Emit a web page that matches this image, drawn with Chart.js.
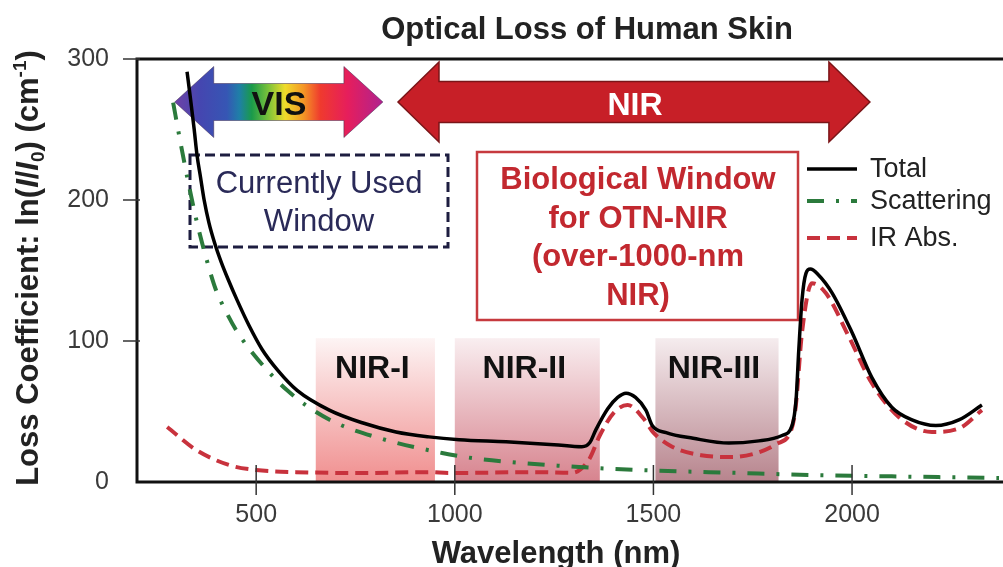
<!DOCTYPE html>
<html><head><meta charset="utf-8">
<script src="https://cdn.jsdelivr.net/npm/chart.js@4.4.1/dist/chart.umd.min.js"></script>
<style>html,body{margin:0;padding:0;background:#fff;}canvas{display:block;}</style>
</head><body>
<canvas id="c" width="1003" height="567"></canvas>
<script>
const FONT = "'Liberation Sans', Arial, Helvetica, sans-serif";

// ---- data ----
const chartTitle = 'Optical Loss of Human Skin';
const xAxisTitle = 'Wavelength (nm)';
const xTickValues = [500, 1000, 1500, 2000];
const yTickValues = [0, 100, 200, 300];

const seriesLabels = ['Total', 'Scattering', 'IR Abs.'];

const totalNm   = [326, 335, 344, 351, 360, 369, 381, 396, 412, 429, 452, 482, 515, 555, 603, 684, 767, 852, 935, 1011, 1129, 1250, 1320, 1340, 1355, 1385, 1410, 1431, 1455, 1481, 1497, 1532, 1600, 1690, 1760, 1824, 1849, 1859, 1866, 1874, 1884, 1895, 1915, 1950, 2000, 2050, 2100, 2151, 2211, 2269, 2327];
const totalLoss = [291, 271, 250, 232, 216, 200, 184, 169, 156, 144, 129, 111, 94, 79, 65, 51, 42, 35.5, 32, 30, 28.5, 26.5, 25, 28, 37, 52, 60, 63, 60, 51, 40, 35, 31, 27.6, 29, 33, 40, 58, 94, 129, 148, 151, 147, 134, 106, 74, 53, 44, 40, 44, 54.6];

const scatNm   = [291, 308, 328, 351, 376, 399, 422, 449, 485, 578, 686, 812, 968, 1043, 1169, 1313, 1464, 1715, 1892, 2100, 2370];
const scatLoss = [269, 243, 214, 184, 157, 136, 122, 108, 93.6, 65, 44, 31, 20.6, 17, 13.5, 10.6, 8.5, 6.4, 5, 4, 2.8];

const irNm   = [276, 349, 432, 500, 600, 767, 935, 986, 1212, 1296, 1338, 1365, 1400, 1435, 1475, 1500, 1547, 1620, 1698, 1760, 1810, 1847, 1858, 1874, 1899, 1934, 1992, 2050, 2118, 2201, 2269, 2327];
const irLoss = [39, 22.7, 12, 8.5, 7, 6.4, 7, 6.4, 7, 6.5, 16, 33, 49, 54.6, 45, 35, 25, 19, 17.7, 20.6, 27, 37, 53, 106, 141, 134, 103, 70, 46, 35.5, 38, 51];

const bandNames = ['NIR-I', 'NIR-II', 'NIR-III'];
const bandStart = [650, 1000, 1505];
const bandEnd   = [950, 1365, 1815];
const bandTop   = 102;

function pts(xs, ys) { return xs.map((x, i) => ({ x: x, y: ys[i] })); }

// ---- styles ----
const bandColors = [
  ['#fdf4f4', '#f08f8f'],
  ['#f9eef0', '#d7838e'],
  ['#f5ecee', '#b7848d']
];

function dblArrow(c, xL, xR, yc, headLen, headHalf, shaftHalf) {
  c.beginPath();
  c.moveTo(xL, yc);
  c.lineTo(xL + headLen, yc - headHalf);
  c.lineTo(xL + headLen, yc - shaftHalf);
  c.lineTo(xR - headLen, yc - shaftHalf);
  c.lineTo(xR - headLen, yc - headHalf);
  c.lineTo(xR, yc);
  c.lineTo(xR - headLen, yc + headHalf);
  c.lineTo(xR - headLen, yc + shaftHalf);
  c.lineTo(xL + headLen, yc + shaftHalf);
  c.lineTo(xL + headLen, yc + headHalf);
  c.closePath();
}

const deco = {
  id: 'deco',
  beforeDraw(chart) {
    const c = chart.ctx;
    c.save(); c.fillStyle = '#fff'; c.fillRect(0, 0, chart.width, chart.height); c.restore();
  },
  beforeDatasetsDraw(chart) {
    const c = chart.ctx, xs = chart.scales.x, ys = chart.scales.y;
    c.save();
    // spectral bands
    bandNames.forEach((name, i) => {
      const x1 = xs.getPixelForValue(bandStart[i]), x2 = xs.getPixelForValue(bandEnd[i]);
      const yT = ys.getPixelForValue(bandTop), yB = ys.getPixelForValue(0);
      const g = c.createLinearGradient(0, yT, 0, yB);
      g.addColorStop(0, bandColors[i][0]);
      g.addColorStop(1, bandColors[i][1]);
      c.fillStyle = g;
      c.fillRect(x1, yT, x2 - x1, yB - yT);
      c.font = 'bold 32px ' + FONT;
      c.fillStyle = '#111';
      c.textAlign = 'center';
      c.textBaseline = 'alphabetic';
      c.fillText(name, (x1 + x2) / 2 - 3, 378);
    });

    // VIS arrow
    const vL = xs.getPixelForValue(295), vR = xs.getPixelForValue(819), vY = ys.getPixelForValue(269.5);
    const vg = c.createLinearGradient(vL, 0, vR, 0);
    vg.addColorStop(0.0, '#6e42a6');
    vg.addColorStop(0.12, '#4546b0');
    vg.addColorStop(0.25, '#3656b4');
    vg.addColorStop(0.31, '#1f7fa8');
    vg.addColorStop(0.37, '#1a9a4a');
    vg.addColorStop(0.45, '#7cc23a');
    vg.addColorStop(0.53, '#efdc2a');
    vg.addColorStop(0.62, '#f59526');
    vg.addColorStop(0.70, '#ef3a2e');
    vg.addColorStop(0.83, '#e61e5c');
    vg.addColorStop(1.0, '#b0228f');
    dblArrow(c, vL, vR, vY, 39, 35.5, 18.5);
    c.fillStyle = vg; c.fill();
    c.lineWidth = 1; c.strokeStyle = 'rgba(60,40,80,0.5)'; c.stroke();
    c.font = 'bold 34px ' + FONT;
    c.fillStyle = '#111'; c.textAlign = 'center'; c.textBaseline = 'alphabetic';
    c.fillText('VIS', 279, 115);

    // NIR arrow
    const nL = xs.getPixelForValue(857), nR = xs.getPixelForValue(2045);
    dblArrow(c, nL, nR, vY, 41, 40, 20.5);
    c.fillStyle = '#c71f27'; c.fill();
    c.lineWidth = 1.5; c.strokeStyle = '#7a1518'; c.stroke();
    c.font = 'bold 32px ' + FONT;
    c.fillStyle = '#fff';
    c.fillText('NIR', 635, 115);

    // Currently used window box
    c.setLineDash([10, 5]);
    c.lineWidth = 3; c.strokeStyle = '#1d1d40';
    c.strokeRect(190, 155, 258, 92);
    c.setLineDash([]);
    c.font = '31px ' + FONT;
    c.fillStyle = '#2a2a58';
    c.fillText('Currently Used', 319, 193);
    c.fillText('Window', 319, 231);

    // Biological window box
    c.lineWidth = 2.5; c.strokeStyle = '#c63a3e';
    c.strokeRect(477, 152, 321, 168);
    c.font = 'bold 31px ' + FONT;
    c.fillStyle = '#c2282f';
    ['Biological Window', 'for OTN-NIR', '(over-1000-nm', 'NIR)'].forEach((t, i) => {
      c.fillText(t, 638, 189 + i * 38.7);
    });
    c.restore();
  },
  afterDatasetsDraw(chart) {
    const c = chart.ctx, xs = chart.scales.x, ys = chart.scales.y, ca = chart.chartArea;
    c.save();
    // frame lines
    c.strokeStyle = '#111'; c.lineWidth = 3; c.setLineDash([]);
    c.beginPath();
    c.moveTo(ca.right + 2, ca.top); c.lineTo(ca.left, ca.top);
    c.lineTo(ca.left, ca.bottom); c.lineTo(ca.right + 2, ca.bottom);
    c.stroke();
    // tick marks
    c.lineWidth = 1.5; c.strokeStyle = '#333';
    yTickValues.forEach(v => {
      if (v === 0) return;
      const y = ys.getPixelForValue(v);
      c.beginPath(); c.moveTo(ca.left - 14, y); c.lineTo(ca.left + 3, y); c.stroke();
    });
    xTickValues.forEach(v => {
      const x = xs.getPixelForValue(v);
      c.beginPath(); c.moveTo(x, ca.bottom - 17); c.lineTo(x, ca.bottom + 13); c.stroke();
    });

    // legend
    const ds = chart.data.datasets;
    const ly = [169, 201, 238];
    ds.forEach((d, i) => {
      c.strokeStyle = d.borderColor; c.lineWidth = d.borderWidth;
      c.setLineDash(d.borderDash || []);
      c.beginPath(); c.moveTo(807, ly[i]); c.lineTo(857, ly[i]); c.stroke();
      c.setLineDash([]);
      c.font = '27px ' + FONT; c.fillStyle = '#222';
      c.textAlign = 'left'; c.textBaseline = 'middle';
      c.fillText(seriesLabels[i], 870, ly[i] + 1);
    });

    // chart title
    c.font = 'bold 31px ' + FONT; c.fillStyle = '#222';
    c.textAlign = 'center'; c.textBaseline = 'alphabetic';
    c.fillText(chartTitle, 587, 39);
    // x axis title
    c.fillText(xAxisTitle, 556, 563);

    // y axis title with rich text
    c.translate(38, 268);
    c.rotate(-Math.PI / 2);
    const big = 31, small = 19;
    const segs = [
      { t: 'Loss Coefficient: ln(', f: 'bold ' + big + 'px ' + FONT, dy: 0 },
      { t: 'I', f: 'italic bold ' + big + 'px ' + FONT, dy: 0 },
      { t: '/', f: 'bold ' + big + 'px ' + FONT, dy: 0 },
      { t: 'I', f: 'italic bold ' + big + 'px ' + FONT, dy: 0 },
      { t: '0', f: 'bold ' + small + 'px ' + FONT, dy: 6 },
      { t: ') (cm', f: 'bold ' + big + 'px ' + FONT, dy: 0 },
      { t: '-1', f: 'bold ' + small + 'px ' + FONT, dy: -12 },
      { t: ')', f: 'bold ' + big + 'px ' + FONT, dy: 0 }
    ];
    let w = 0;
    segs.forEach(s => { c.font = s.f; s.w = c.measureText(s.t).width; w += s.w; });
    let x = -w / 2;
    c.fillStyle = '#222'; c.textAlign = 'left'; c.textBaseline = 'alphabetic';
    segs.forEach(s => { c.font = s.f; c.fillText(s.t, x, s.dy); x += s.w; });
    c.restore();
  }
};

new Chart(document.getElementById('c'), {
  type: 'line',
  data: {
    datasets: [
      { label: seriesLabels[0], data: pts(totalNm, totalLoss), borderColor: '#000000', borderWidth: 3.5,
        pointRadius: 0, fill: false, cubicInterpolationMode: 'monotone' },
      { label: seriesLabels[1], data: pts(scatNm, scatLoss), borderColor: '#2b7a3c', borderWidth: 4,
        borderDash: [17, 12, 3, 12], pointRadius: 0, fill: false, cubicInterpolationMode: 'monotone' },
      { label: seriesLabels[2], data: pts(irNm, irLoss), borderColor: '#c8323d', borderWidth: 4,
        borderDash: [13, 7], pointRadius: 0, fill: false, cubicInterpolationMode: 'monotone' }
    ]
  },
  options: {
    responsive: false,
    animation: false,
    events: [],
    layout: { padding: { top: 59, right: 0, bottom: 0, left: 0 } },
    plugins: { legend: { display: false }, tooltip: { enabled: false }, title: { display: false } },
    scales: {
      x: {
        type: 'linear', min: 200, max: 2380,
        afterBuildTicks: s => { s.ticks = xTickValues.map(v => ({ value: v })); },
        afterFit: s => { s.height = 85; },
        grid: { display: false, drawTicks: false },
        border: { display: false },
        ticks: { font: { family: FONT, size: 25 }, color: '#3a3a3a', padding: 18, maxRotation: 0,
                 callback: v => String(v) }
      },
      y: {
        type: 'linear', min: 0, max: 300,
        afterBuildTicks: s => { s.ticks = yTickValues.map(v => ({ value: v })); },
        afterFit: s => { s.width = 137; },
        grid: { display: false, drawTicks: false },
        border: { display: false },
        ticks: { font: { family: FONT, size: 25 }, color: '#3a3a3a', padding: 28, callback: v => String(v) }
      }
    }
  },
  plugins: [deco]
});
</script>
</body></html>
